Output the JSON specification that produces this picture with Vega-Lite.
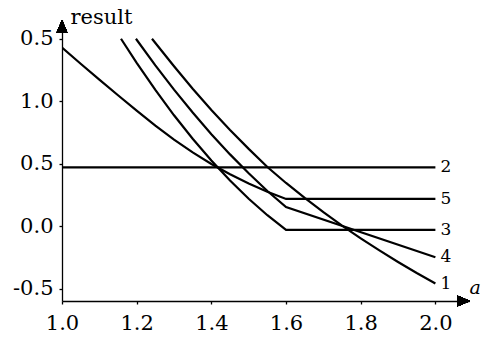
{
  "$schema": "https://vega.github.io/schema/vega-lite/v6.json",
  "width": 407,
  "height": 281,
  "autosize": {"type": "none"},
  "padding": {"left": 62, "top": 20, "right": 13, "bottom": 36},
  "background": "white",
  "config": {"view": {"stroke": null}, "font": "DejaVu Serif"},
  "data": {
    "values": [
      {"series": "2", "x": 1.0, "y": 0.47},
      {"series": "2", "x": 2.0, "y": 0.47},
      {"series": "5", "x": 1.0, "y": 1.43},
      {"series": "5", "x": 1.05, "y": 1.3},
      {"series": "5", "x": 1.1, "y": 1.1725},
      {"series": "5", "x": 1.15, "y": 1.0475},
      {"series": "5", "x": 1.2, "y": 0.925},
      {"series": "5", "x": 1.25, "y": 0.805},
      {"series": "5", "x": 1.3, "y": 0.6925},
      {"series": "5", "x": 1.35, "y": 0.59},
      {"series": "5", "x": 1.4, "y": 0.4975},
      {"series": "5", "x": 1.45, "y": 0.415},
      {"series": "5", "x": 1.5, "y": 0.341},
      {"series": "5", "x": 1.55, "y": 0.275},
      {"series": "5", "x": 1.6, "y": 0.217},
      {"series": "5", "x": 2.0, "y": 0.217},
      {"series": "3", "x": 1.158, "y": 1.5},
      {"series": "3", "x": 1.2, "y": 1.307},
      {"series": "3", "x": 1.25, "y": 1.09},
      {"series": "3", "x": 1.3, "y": 0.887},
      {"series": "3", "x": 1.35, "y": 0.699},
      {"series": "3", "x": 1.4, "y": 0.525},
      {"series": "3", "x": 1.45, "y": 0.365},
      {"series": "3", "x": 1.5, "y": 0.219},
      {"series": "3", "x": 1.55, "y": 0.087},
      {"series": "3", "x": 1.6, "y": -0.03},
      {"series": "3", "x": 2.0, "y": -0.03},
      {"series": "4", "x": 1.198, "y": 1.5},
      {"series": "4", "x": 1.25, "y": 1.287},
      {"series": "4", "x": 1.3, "y": 1.092},
      {"series": "4", "x": 1.35, "y": 0.909},
      {"series": "4", "x": 1.4, "y": 0.736},
      {"series": "4", "x": 1.45, "y": 0.574},
      {"series": "4", "x": 1.5, "y": 0.423},
      {"series": "4", "x": 1.55, "y": 0.281},
      {"series": "4", "x": 1.6, "y": 0.152},
      {"series": "4", "x": 2.0, "y": -0.25},
      {"series": "1", "x": 1.241, "y": 1.5},
      {"series": "1", "x": 1.3, "y": 1.28},
      {"series": "1", "x": 1.35, "y": 1.1},
      {"series": "1", "x": 1.4, "y": 0.93},
      {"series": "1", "x": 1.45, "y": 0.77},
      {"series": "1", "x": 1.5, "y": 0.618},
      {"series": "1", "x": 1.55, "y": 0.473},
      {"series": "1", "x": 1.6, "y": 0.345},
      {"series": "1", "x": 1.65, "y": 0.225},
      {"series": "1", "x": 1.7, "y": 0.111},
      {"series": "1", "x": 1.75, "y": 0.0035},
      {"series": "1", "x": 1.8, "y": -0.098},
      {"series": "1", "x": 1.85, "y": -0.195},
      {"series": "1", "x": 1.9, "y": -0.2875},
      {"series": "1", "x": 1.95, "y": -0.376},
      {"series": "1", "x": 2.0, "y": -0.46}
    ]
  },
  "layer": [
    {
      "mark": {"type": "line", "color": "black", "strokeWidth": 2.2, "clip": true},
      "encoding": {
        "x": {
          "field": "x", "type": "quantitative",
          "scale": {"domain": [1.0, 2.09], "nice": false, "zero": false},
          "axis": {
            "values": [1.0, 1.2, 1.4, 1.6, 1.8, 2.0],
            "format": ".1f",
            "grid": false,
            "labelFlush": false,
            "labelOverlap": false,
            "labelFontSize": 21,
            "labelColor": "black",
            "labelPadding": 8,
            "domainColor": "black",
            "domainWidth": 1.3,
            "tickColor": "black",
            "tickWidth": 1.3,
            "tickSize": 3,
            "title": "a",
            "titleFontStyle": "italic",
            "titleFontWeight": "normal",
            "titleFontSize": 19,
            "titleColor": "black",
            "titleAlign": "left",
            "titleBaseline": "alphabetic",
            "titleAnchor": null,
            "titleX": 407,
            "titleY": -8
          }
        },
        "y": {
          "field": "y", "type": "quantitative",
          "scale": {"domain": [-0.6, 1.65], "nice": false, "zero": false},
          "axis": {
            "values": [-0.5, 0, 0.5, 1.0, 1.5],
            "labelExpr": "datum.value == 1.5 ? '0.5' : datum.value == 1 ? '1.0' : datum.value == 0.5 ? '0.5' : datum.value == 0 ? '0.0' : '-0.5'",
            "grid": false,
            "labelOverlap": false,
            "labelFlush": false,
            "labelFontSize": 21,
            "labelColor": "black",
            "labelPadding": 6,
            "domainColor": "black",
            "domainWidth": 1.3,
            "tickColor": "black",
            "tickWidth": 1.3,
            "tickSize": 3,
            "title": "result",
            "titleAngle": 0,
            "titleFontWeight": "normal",
            "titleFontSize": 21,
            "titleColor": "black",
            "titleAlign": "left",
            "titleBaseline": "alphabetic",
            "titleAnchor": null,
            "titleX": 8,
            "titleY": 3
          }
        },
        "detail": {"field": "series"}
      }
    },
    {
      "transform": [{"filter": "datum.x == 2"}],
      "mark": {"type": "text", "align": "left", "baseline": "middle", "dx": 5, "fontSize": 17, "color": "black"},
      "encoding": {
        "x": {"field": "x", "type": "quantitative"},
        "y": {"field": "y", "type": "quantitative"},
        "text": {"field": "series"}
      }
    },
    {
      "mark": {"type": "point", "shape": "M-1,-0.85L1,0L-1,0.85Z", "size": 169, "filled": true, "color": "black", "opacity": 1, "clip": false},
      "encoding": {
        "x": {"datum": 2.0753, "type": "quantitative"},
        "y": {"datum": -0.6, "type": "quantitative"}
      }
    },
    {
      "mark": {"type": "point", "shape": "M-0.85,1L0,-1L0.85,1Z", "size": 169, "filled": true, "color": "black", "opacity": 1, "clip": false},
      "encoding": {
        "x": {"datum": 1.0, "type": "quantitative"},
        "y": {"datum": 1.598, "type": "quantitative"}
      }
    }
  ]
}
